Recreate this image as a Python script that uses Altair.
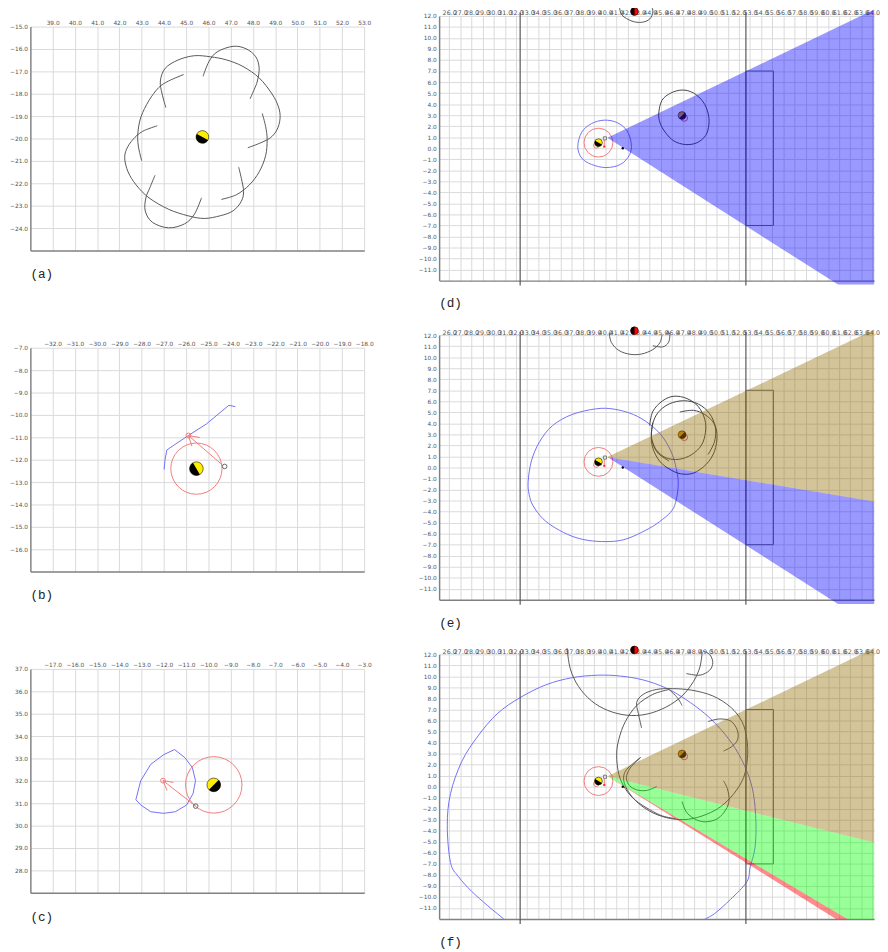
import altair as alt
import pandas as pd

# ---------------- panel (a) ----------------
a_xticks = [39, 40, 41, 42, 43, 44, 45, 46, 47, 48, 49, 50, 51, 52, 53]
a_yticks = [-15, -16, -17, -18, -19, -20, -21, -22, -23, -24]
a_arc1_x = [45.76, 46.02, 46.39, 47.11, 47.69, 48.13, 48.28, 48.20, 48.06, 47.87]
a_arc1_y = [-17.22, -16.57, -16.13, -15.88, -15.99, -16.35, -16.86, -17.43, -17.80, -18.23]
a_arc2_x = [48.42, 48.57, 48.64, 48.57, 48.28, 47.84, 47.26, 46.58]
a_arc2_y = [-18.88, -19.46, -20.04, -20.77, -21.49, -22.07, -22.51, -22.72]
a_arc3_x = [47.77, 48.28, 48.78, 49.08, 49.22, 49.15, 48.86, 48.28, 47.55, 46.82, 46.10, 45.37, 44.64, 44.06, 43.84, 43.92, 44.09]
a_arc3_y = [-20.41, -20.22, -19.97, -19.61, -19.10, -18.59, -18.01, -17.29, -16.78, -16.49, -16.35, -16.30, -16.49, -16.86, -17.43, -18.01, -18.62]
a_arc4_x = [44.89, 44.21, 43.77, 43.33, 42.97, 42.83, 42.85, 43.00]
a_arc4_y = [-17.14, -17.43, -17.72, -18.30, -19.03, -19.75, -20.33, -20.99]
a_arc5_x = [43.70, 43.04, 42.61, 42.32, 42.24, 42.39, 42.75, 43.33, 44.21, 45.08, 45.81, 46.53, 47.11, 47.48, 47.58, 47.48, 47.36]
a_arc5_y = [-19.43, -19.68, -20.04, -20.48, -20.91, -21.49, -22.07, -22.65, -23.16, -23.45, -23.57, -23.45, -23.23, -22.80, -22.36, -21.78, -21.28]
a_arc6_x = [43.60, 43.36, 43.19, 43.16, 43.48, 44.21, 44.93, 45.37, 45.69]
a_arc6_y = [-21.64, -22.22, -22.65, -23.23, -23.74, -23.99, -23.81, -23.38, -22.65]
a_player = (45.73, -19.93)

# ---------------- panel (b) ----------------
b_xticks = [-32, -31, -30, -29, -28, -27, -26, -25, -24, -23, -22, -21, -20, -19, -18]
b_yticks = [-7, -8, -9, -10, -11, -12, -13, -14, -15, -16]
b_player = (-25.54, -12.40)
b_blue_x = [-26.99, -26.95, -26.87, -26.55, -25.90, -25.10, -24.08, -23.79]
b_blue_y = [-12.44, -12.01, -11.57, -11.35, -10.92, -10.41, -9.57, -9.63]
b_kick_x = [-24.39, -25.90]
b_kick_y = [-12.22, -10.92]
b_barb1_x = [-25.90, -25.39]
b_barb1_y = [-10.92, -11.01]
b_barb2_x = [-25.90, -25.74]
b_barb2_y = [-10.92, -11.40]
b_target = (-25.90, -10.92)
b_ball = (-24.27, -12.30)

# ---------------- panel (c) ----------------
c_xticks = [-17, -16, -15, -14, -13, -12, -11, -10, -9, -8, -7, -6, -5, -4, -3]
c_yticks = [37, 36, 35, 34, 33, 32, 31, 30, 29, 28]
c_player = (-9.76, 31.82)
c_blue_x = [-13.26, -13.04, -12.59, -12.01, -11.52, -11.05, -10.72, -10.58, -10.69, -10.98, -11.49, -12.01, -12.59, -13.04, -13.26]
c_blue_y = [31.16, 32.01, 32.74, 33.17, 33.40, 33.03, 32.59, 32.01, 31.43, 30.92, 30.62, 30.55, 30.62, 30.92, 31.16]
c_kick_x = [-10.57, -12.04]
c_kick_y = [30.87, 32.01]
c_barb1_x = [-12.04, -11.57]
c_barb1_y = [32.01, 31.93]
c_barb2_x = [-12.04, -11.86]
c_barb2_y = [32.01, 31.57]
c_target = (-12.04, 32.01)
c_ball = (-10.57, 30.87)

# ---------------- right panels (d)(e)(f) ----------------
r_xticks = list(range(26, 65))
r_yticks = list(range(12, -12, -1))
field_line1_x = [32.37, 32.37]
field_line2_x = [52.63, 52.63]
field_line_y = [12.3, -12.45]
goal_x = [52.63, 55.10, 55.10, 52.63, 52.63]
goal_y = [7.0, 7.0, -7.0, -7.0, 7.0]
me = (39.40, 0.51)
me_small = (39.20, 0.25)
apex_mark = (39.98, 0.90)
me_stick_x = [39.92, 39.92]
me_stick_y = [0.75, 0.15]
ball = (41.58, 0.0)
opp = (46.90, 2.97)
opp_small = (47.10, 2.74)
top_player = (42.63, 12.40)

# (d)
d_cone_x = [40.2, 64.14, 64.14, 60.9]
d_cone_y = [0.95, 12.57, -12.36, -12.36]
d_blue_x = [37.54, 37.89, 38.76, 39.92, 41.09, 41.96, 42.34, 42.19, 41.38, 40.07, 38.76, 37.89]
d_blue_y = [0.14, 1.45, 2.23, 2.55, 2.32, 1.59, 0.43, -0.59, -1.46, -1.75, -1.46, -0.88]
d_opp_x = [44.81, 45.10, 45.88, 46.90, 47.92, 48.79, 49.23, 49.31, 49.02, 48.21, 47.19, 46.17, 45.39, 44.92]
d_opp_y = [3.19, 4.35, 5.00, 5.28, 5.02, 4.21, 3.19, 2.17, 1.16, 0.49, 0.34, 0.66, 1.45, 2.32]
d_top_x = [41.29, 41.52, 42.40, 43.27, 43.99, 44.28, 44.17]
d_top_y = [12.78, 12.06, 11.53, 11.42, 11.71, 12.35, 12.87]

# (e)
e_tan_x = [40.2, 64.14, 64.14]
e_tan_y = [0.95, 12.50, -3.09]
e_blue_cone_x = [40.2, 64.14, 64.14, 60.9]
e_blue_cone_y = [0.95, -3.09, -12.38, -12.38]
e_blue_x = [33.09, 33.38, 34.11, 35.27, 37.02, 39.20, 40.80, 42.54, 43.99, 45.16, 46.03, 46.47, 46.55, 46.32, 45.88, 44.87, 43.99, 42.54, 41.38, 40.07, 38.47, 37.02, 35.56, 34.40, 33.53, 33.18]
e_blue_y = [-1.29, 0.59, 2.33, 3.79, 4.80, 5.32, 5.29, 4.80, 3.93, 2.77, 1.17, -0.57, -1.73, -3.18, -4.05, -4.92, -5.50, -6.23, -6.61, -6.72, -6.61, -6.23, -5.50, -4.63, -3.47, -2.46]
e_loop1_x = [43.99, 44.28, 45.16, 46.17, 47.34, 48.35, 48.94, 49.00, 48.65, 47.77, 46.61, 45.45, 44.58, 44.14]
e_loop1_y = [3.79, 5.09, 6.05, 6.46, 6.25, 5.53, 4.37, 3.20, 2.04, 1.17, 0.74, 0.88, 1.61, 2.62]
e_loop2_x = [46.70, 47.92, 48.94, 49.75, 50.04, 49.81, 49.08, 47.92, 46.76, 45.74, 44.87, 44.28, 44.14, 44.28]
e_loop2_y = [5.03, 5.18, 4.80, 4.02, 2.91, 1.46, 0.30, -0.51, -0.57, -0.13, 0.59, 1.75, 2.91, 4.08]
e_loop3_x = [45.74, 44.72, 44.20, 44.23, 44.72, 45.74, 47.05, 48.35, 49.37, 49.89, 49.81, 49.23]
e_loop3_y = [0.59, 1.32, 2.48, 3.79, 4.95, 5.76, 6.05, 5.76, 4.89, 3.64, 2.33, 1.17]
e_top1_x = [40.36, 40.56, 41.23, 42.25, 43.27, 44.28, 44.92, 45.10]
e_top1_y = [12.20, 11.33, 10.61, 10.26, 10.29, 10.69, 11.33, 12.06]
e_top2_x = [44.28, 45.16, 45.68, 45.80, 45.59]
e_top2_y = [11.04, 10.93, 11.33, 12.06, 12.35]

# (f)
f_tan_x = [40.2, 64.14, 64.14]
f_tan_y = [0.95, 12.58, -5.07]
f_green_x = [40.2, 64.14, 64.14, 61.73]
f_green_y = [0.95, -5.07, -12.0, -12.0]
f_red_x = [40.2, 61.73, 60.71]
f_red_y = [0.95, -12.0, -12.0]
f_blue_x = [30.91, 29.46, 28.01, 26.84, 26.12, 25.83, 26.12, 27.13, 28.59, 30.33, 32.37, 34.69, 37.02, 39.34, 41.38, 43.41, 45.45, 47.19, 48.94, 50.39, 51.70, 52.72, 53.30, 53.53, 53.44, 53.01, 52.72, 51.26, 49.81, 48.94]
f_blue_y = [-12.0, -10.79, -9.48, -8.17, -6.87, -3.53, -0.63, 2.28, 4.60, 6.63, 8.08, 9.24, 9.88, 10.11, 10.03, 9.68, 8.95, 7.94, 6.63, 5.18, 3.44, 1.40, -0.63, -3.24, -5.56, -7.30, -8.61, -10.21, -11.51, -12.0]
f_t1_x = [36.58, 36.87, 37.60, 38.76, 40.22, 41.96, 43.70, 45.45, 46.90, 47.92, 48.50, 48.70]
f_t1_y = [12.58, 10.69, 9.10, 7.79, 6.92, 6.48, 6.57, 7.21, 8.23, 9.53, 10.84, 12.15]
f_t2_x = [47.28, 48.50, 49.37, 49.66, 49.37, 48.79]
f_t2_y = [10.26, 10.11, 10.55, 11.27, 12.00, 12.29]
f_l1_x = [43.27, 42.98, 42.83, 43.41, 44.58, 46.03, 47.77, 49.66, 51.26, 52.28, 52.72, 52.77, 52.42, 51.55, 50.39, 49.08, 47.48, 45.88, 44.28, 42.98, 42.10, 41.67, 41.81, 42.54, 43.18]
f_l1_y = [5.32, 6.63, 7.65, 8.37, 8.81, 8.89, 8.75, 8.23, 7.21, 5.90, 4.31, 2.57, 0.82, -0.63, -1.79, -2.51, -2.95, -2.89, -2.37, -1.50, -0.48, 0.53, 1.40, 2.13, 2.65]
f_l2_x = [45.74, 44.28, 42.83, 41.81, 41.23, 41.03, 41.23, 41.81, 42.69, 43.99, 45.16, 46.32]
f_l2_y = [8.81, 8.37, 7.36, 5.90, 4.31, 2.86, 1.11, -0.19, -1.21, -2.08, -2.66, -2.89]
f_l3_x = [46.90, 47.34, 48.21, 49.08, 50.10, 50.83, 51.12, 50.97, 50.62]
f_l3_y = [-1.35, -2.37, -3.01, -3.18, -2.89, -2.08, -1.21, -0.19, 0.53]
f_l4_x = [49.23, 50.24, 51.26, 51.84, 51.90, 51.41, 50.62]
f_l4_y = [5.90, 6.14, 5.96, 5.18, 4.31, 3.67, 3.23]
f_l5_x = [44.63, 43.70, 42.83, 42.19, 41.90, 42.25, 43.18]
f_l5_y = [0.01, -0.34, -0.28, 0.10, 0.82, 1.70, 2.65]
f_l6_x = [45.74, 46.47, 46.90]
f_l6_y = [8.81, 8.08, 7.36]

# ---------------- styles ----------------
GRAY_LINE = "#555555"
BLUE_LINE = "#6f6ff5"
RED_LINE = "#f27a7a"
HALF_DOWN = "M -1 0 A 1 1 0 0 0 1 0 Z"


def _xy(X, Y):
    return dict(x=alt.X("x:Q", scale=X, axis=None), y=alt.Y("y:Q", scale=Y, axis=None))


def path(xs, ys, color, width=1.0, interp="cardinal"):
    def build(X, Y):
        df = pd.DataFrame({"x": xs, "y": ys, "i": list(range(len(xs)))})
        return alt.Chart(df).mark_line(color=color, strokeWidth=width, interpolate=interp).encode(
            order="i:Q", **_xy(X, Y))
    return build


def polygon(xs, ys, color, op):
    def build(X, Y):
        df = pd.DataFrame({"x": xs, "y": ys, "i": list(range(len(xs)))})
        return alt.Chart(df).mark_line(fill=color, fillOpacity=op, strokeOpacity=0,
                                       interpolate="linear-closed").encode(order="i:Q", **_xy(X, Y))
    return build


def ring(pt, size, color, width=1.0, shape="circle"):
    def build(X, Y):
        df = pd.DataFrame({"x": [pt[0]], "y": [pt[1]]})
        return alt.Chart(df).mark_point(shape=shape, filled=False, size=size, color=color,
                                        strokeWidth=width, opacity=1).encode(**_xy(X, Y))
    return build


def dot(pt, size, color):
    def build(X, Y):
        df = pd.DataFrame({"x": [pt[0]], "y": [pt[1]]})
        return alt.Chart(df).mark_point(shape="circle", filled=True, size=size, color=color,
                                        opacity=1).encode(**_xy(X, Y))
    return build


def agent(pt, size, c1, c2, angle):
    def build(X, Y):
        df = pd.DataFrame({"x": [pt[0]], "y": [pt[1]]})
        full = alt.Chart(df).mark_point(shape="circle", filled=True, size=size, fill=c1,
                                        stroke="#111", strokeWidth=0.6, opacity=1).encode(**_xy(X, Y))
        half = alt.Chart(df).mark_point(shape=HALF_DOWN, filled=True, size=size, color=c2,
                                        angle=angle, opacity=1).encode(**_xy(X, Y))
        return alt.layer(full, half)
    return build


def panel(xdom, ydom, xticks, yticks, w, h, label, elements, toff, xfs, xpad):
    X = alt.Scale(domain=xdom, nice=False, zero=False)
    Y = alt.Scale(domain=ydom, nice=False, zero=False)
    dummy = pd.DataFrame({"x": xdom, "y": ydom})
    top = alt.Chart(dummy).mark_point(opacity=0, size=1).encode(
        x=alt.X("x:Q", scale=X, axis=alt.Axis(orient="top", values=xticks, format=".1f", grid=True,
                                              domain=False, ticks=False, labelOverlap=False,
                                              labelFlush=False, labelPadding=xpad, labelFontSize=xfs,
                                              title=None)),
        y=alt.Y("y:Q", scale=Y, axis=alt.Axis(orient="left", values=yticks, format=".1f", grid=True,
                                              domain=True, ticks=False, labelOverlap=False,
                                              labelFlush=False, labelPadding=3, title=None)))
    bottom = alt.Chart(dummy).mark_point(opacity=0, size=1).encode(
        x=alt.X("x:Q", scale=X, axis=alt.Axis(orient="bottom", labels=False, ticks=False, grid=False,
                                              domain=True, title=None)),
        y=alt.Y("y:Q", scale=Y, axis=None))
    layers = [top, bottom] + [e(X, Y) for e in elements]
    return alt.layer(*layers).resolve_axis(x="independent", y="independent").properties(
        width=w, height=h,
        title=alt.Title(label, orient="bottom", anchor="start", frame="group", offset=toff,
                        fontSize=13, font="Liberation Mono", fontWeight="normal", color="#222"))


LW, LH = 343, 230
RW, RH = 447, 272

pa = panel([38, 53], [-25, -15], a_xticks, a_yticks, LW, LH, "(a)", [
    path(a_arc1_x, a_arc1_y, GRAY_LINE), path(a_arc2_x, a_arc2_y, GRAY_LINE),
    path(a_arc3_x, a_arc3_y, GRAY_LINE), path(a_arc4_x, a_arc4_y, GRAY_LINE),
    path(a_arc5_x, a_arc5_y, GRAY_LINE), path(a_arc6_x, a_arc6_y, GRAY_LINE),
    agent(a_player, 170, "#ffee00", "#000000", 28),
], 18, 6, 1)

pb = panel([-33, -18], [-17, -7], b_xticks, b_yticks, LW, LH, "(b)", [
    path(b_blue_x, b_blue_y, BLUE_LINE, interp="linear"),
    ring(b_player, 2767, RED_LINE),
    path(b_kick_x, b_kick_y, RED_LINE, interp="linear"),
    path(b_barb1_x, b_barb1_y, RED_LINE, interp="linear"),
    path(b_barb2_x, b_barb2_y, RED_LINE, interp="linear"),
    ring(b_target, 25, RED_LINE),
    ring(b_ball, 22, "#666666"),
    agent(b_player, 196, "#ffee00", "#000000", 60),
], 18, 6, 1)

pc = panel([-18, -3], [27, 37], c_xticks, c_yticks, LW, LH, "(c)", [
    path(c_blue_x, c_blue_y, BLUE_LINE, interp="linear"),
    ring(c_player, 3364, RED_LINE),
    path(c_kick_x, c_kick_y, RED_LINE, interp="linear"),
    path(c_barb1_x, c_barb1_y, RED_LINE, interp="linear"),
    path(c_barb2_x, c_barb2_y, RED_LINE, interp="linear"),
    ring(c_target, 25, RED_LINE),
    ring(c_ball, 22, "#666666"),
    agent(c_player, 196, "#ffee00", "#000000", 315),
], 18, 6, 1)


def common_right():
    return [
        path(field_line1_x, field_line_y, "#555555", 1.2, "linear"),
        path(field_line2_x, field_line_y, "#555555", 1.2, "linear"),
        path(goal_x, goal_y, "#666666", 1.0, "linear"),
        ring(me, 880, RED_LINE),
        ring(me_small, 30, RED_LINE),
        path(me_stick_x, me_stick_y, RED_LINE, 1.0, "linear"),
        dot((me_stick_x[1], me_stick_y[1]), 6, "#ff3333"),
        ring(apex_mark, 10, "#777777", 1.0, "square"),
        dot(ball, 6, "#000000"),
        agent(me, 64, "#ffee00", "#000000", 30),
        agent(top_player, 64, "#ff0000", "#000000", 90),
        ring(opp_small, 45, "#ee4466"),
        agent(opp, 64, "#e09000", "#111111", 315),
    ]


pd_ = panel([25.1, 64.14], [-12, 12], r_xticks, r_yticks, RW, RH, "(d)", [
    path(d_blue_x, d_blue_y, BLUE_LINE, 1.0, "cardinal-closed"),
    path(d_opp_x, d_opp_y, "#444444", 1.0, "cardinal-closed"),
    path(d_top_x, d_top_y, GRAY_LINE),
] + common_right() + [
    polygon(d_cone_x, d_cone_y, "#0000ff", 0.4),
], 10, 6.5, 0)

pe = panel([25.1, 64.14], [-12, 12], r_xticks, r_yticks, RW, RH, "(e)", [
    path(e_blue_x, e_blue_y, BLUE_LINE, 1.0, "cardinal-closed"),
    path(e_loop1_x, e_loop1_y, "#444444"),
    path(e_loop2_x, e_loop2_y, "#444444"),
    path(e_loop3_x, e_loop3_y, "#444444"),
    path(e_top1_x, e_top1_y, GRAY_LINE),
    path(e_top2_x, e_top2_y, GRAY_LINE),
] + common_right() + [
    polygon(e_tan_x, e_tan_y, "#946c00", 0.4),
    polygon(e_blue_cone_x, e_blue_cone_y, "#0000ff", 0.4),
], 10, 6.5, 0)

pf = panel([25.1, 64.14], [-12, 12], r_xticks, r_yticks, RW, RH, "(f)", [
    path(f_blue_x, f_blue_y, BLUE_LINE, 1.0, "cardinal"),
    path(f_t1_x, f_t1_y, GRAY_LINE), path(f_t2_x, f_t2_y, GRAY_LINE),
    path(f_l1_x, f_l1_y, GRAY_LINE), path(f_l2_x, f_l2_y, GRAY_LINE),
    path(f_l3_x, f_l3_y, GRAY_LINE), path(f_l4_x, f_l4_y, GRAY_LINE),
    path(f_l5_x, f_l5_y, GRAY_LINE), path(f_l6_x, f_l6_y, GRAY_LINE),
] + common_right() + [
    polygon(f_tan_x, f_tan_y, "#946c00", 0.4),
    polygon(f_green_x, f_green_y, "#00ff00", 0.4),
    polygon(f_red_x, f_red_y, "#ff0000", 0.45),
], 10, 6.5, 0)

spacer = alt.Chart(pd.DataFrame({"v": [0]})).mark_point(opacity=0).properties(width=1, height=1)
left = alt.vconcat(spacer, alt.vconcat(pa, pb, pc, spacing=61), spacing=0)
right = alt.vconcat(pd_, pe, pf, spacing=15)

chart = alt.hconcat(left, right, spacing=45).properties(
    padding={"left": 1, "top": -17, "right": 0, "bottom": 0}
).configure_axis(
    labelFont="DejaVu Sans", labelFontSize=6, labelColor="#555555",
    gridColor="#d9d9d9", gridWidth=1, domainColor="#808080", domainWidth=1.5
).configure_view(stroke=None).configure_title(font="Liberation Mono")

chart.save("out.html", embed_options={"renderer": "svg", "actions": False})
